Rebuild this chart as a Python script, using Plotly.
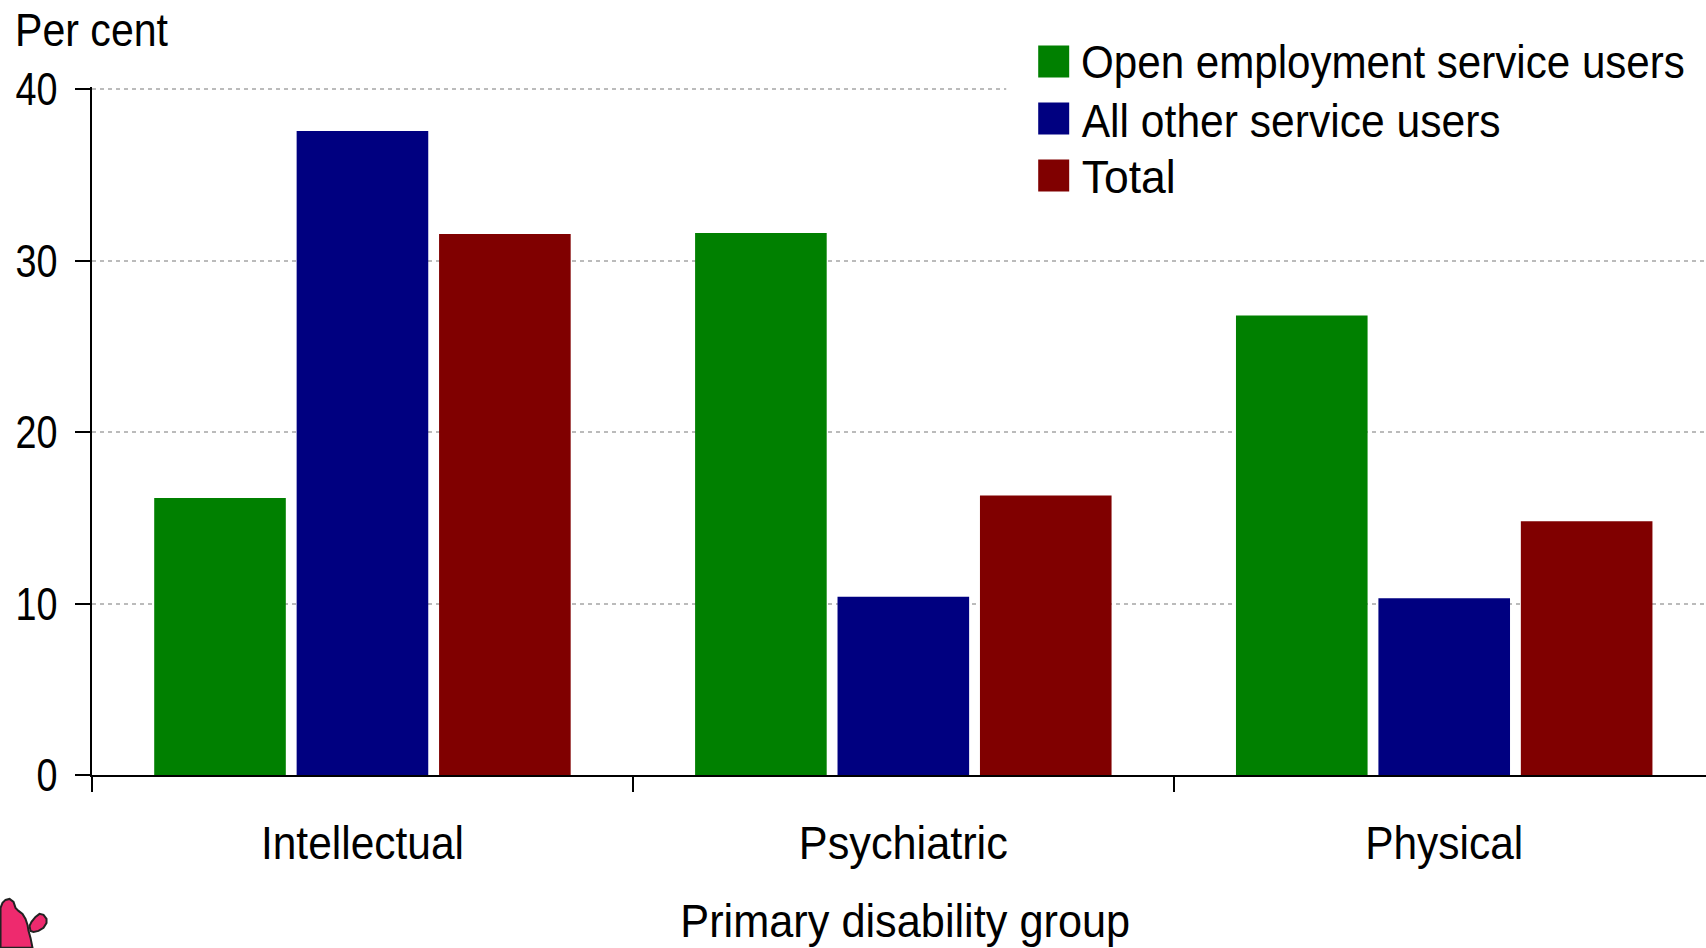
import json
import plotly.graph_objects as go

categories = ["Intellectual", "Psychiatric", "Physical"]
open_employment = [16.15, 31.6, 26.8]
all_other = [37.55, 10.4, 10.3]
total = [31.55, 16.3, 14.8]
series = [("Open employment service users", open_employment, "#008000"),
          ("All other service users", all_other, "#000080"),
          ("Total", total, "#800000")]
y_ticks = [0, 10, 20, 30, 40]

W, H = 1706, 948
L, T, B = 91.5, 86.5, 173
FONT = "Liberation Sans, Arial"
FS = 47
UNIT = 686.5 / 40

# rendered widths (px) that reproduce the narrow typeface of the reference
text_widths = {"Open employment service users": 604, "All other service users": 419, "Total": 94,
               "Per cent": 153, "Intellectual": 203, "Psychiatric": 209, "Physical": 158,
               "Primary disability group": 450, "40": 42, "30": 42, "20": 42, "10": 42, "0": 21}

def px(x): return (x - L) / (W - L)
def py(y): return (H - B - y) / (H - T - B)

fig = go.Figure()
for name, vals, col in series:
    fig.add_bar(x=categories, y=vals, name=name, marker=dict(color=col, line=dict(width=0)), showlegend=False)

shapes = [dict(type="rect", xref="paper", yref="paper", x0=px(1006), x1=1, y0=py(225), y1=py(0),
               fillcolor="white", line=dict(width=0), layer="above")]
annotations = []
swatch_rows = [61, 118, 175]
text_rows = [61, 120, 176]
TEXT_LEFT = 1081
for (name, vals, col), yc, yt in zip(series, swatch_rows, text_rows):
    shapes.append(dict(type="rect", xref="paper", yref="paper", x0=px(1038), x1=px(1069),
                       y0=py(yc - 16), y1=py(yc + 16), fillcolor=col, line=dict(width=0), layer="above"))
    annotations.append(dict(text=name, xref="paper", yref="paper", x=px(TEXT_LEFT + text_widths[name] / 2), y=py(yt),
                            xanchor="center", yanchor="middle", showarrow=False,
                            font=dict(size=FS, color="black", family=FONT)))
annotations.append(dict(text="Per cent", xref="paper", yref="paper", x=px(14 + text_widths["Per cent"] / 2), y=py(29),
                        xanchor="center", yanchor="middle", showarrow=False,
                        font=dict(size=FS, color="black", family=FONT)))
annotations.append(dict(text="Primary disability group", xref="paper", yref="paper", x=px(905), y=py(921),
                        xanchor="center", yanchor="middle", showarrow=False,
                        font=dict(size=FS, color="black", family=FONT)))

def path(pts):
    return "M" + "L".join(f"{px(a):.5f},{py(b):.5f}" for a, b in pts) + "Z"
blob = [(0, 948), (0, 908), (2, 903), (5, 900), (9, 899), (13, 902), (15, 908), (18, 911), (22, 914),
        (25, 919), (27, 925), (28, 931), (30, 938), (32, 948)]
lobe = [(29, 926), (31, 922), (35, 917), (39, 914), (43, 915), (46, 919), (46, 923), (43, 928), (38, 931), (33, 932), (30, 931)]
for p in (blob, lobe):
    shapes.append(dict(type="path", xref="paper", yref="paper", path=path(p), fillcolor="#ee2a6e",
                       line=dict(color="#222222", width=2), layer="above"))

fig.update_layout(
    width=W, height=H, margin=dict(l=L, r=0, t=T, b=B), paper_bgcolor="white", plot_bgcolor="white",
    barmode="group", bargap=0.21, bargroupgap=0.076, showlegend=False,
    font=dict(family=FONT, size=FS, color="black"),
    shapes=shapes, annotations=annotations,
    xaxis=dict(range=[-0.5, 2.484], tickson="boundaries", ticks="outside", ticklen=15, tickwidth=2, tickcolor="black",
               showline=True, linecolor="black", linewidth=2, showgrid=False, type="category",
               ticklabelstandoff=26, tickfont=dict(size=FS, family=FONT)),
    yaxis=dict(range=[0, 40 + 2 / UNIT], tickvals=y_ticks, ticks="outside", ticklen=15, tickwidth=2, tickcolor="black",
               showline=True, linecolor="black", linewidth=2, showgrid=True, gridcolor="#bbbbbb", gridwidth=2,
               griddash="4px,4px", zeroline=False, ticklabelstandoff=8, tickfont=dict(size=FS, family=FONT)),
)
post = """
document.body.style.margin='0';
var widths = %s;
document.querySelectorAll('svg text').forEach(function(t){
  var w = widths[t.textContent.trim()];
  if (!w) return;
  if (t.closest('.annotation')) {
    var k = w / t.getComputedTextLength();
    t.style.transformBox = 'fill-box';
    t.style.transformOrigin = 'center';
    t.style.transform = 'scaleX(' + k + ')';
  } else {
    t.setAttribute('textLength', w);
    t.setAttribute('lengthAdjust', 'spacingAndGlyphs');
  }
});
document.querySelectorAll('.annotation rect.bg').forEach(function(r){ r.remove(); });
""" % json.dumps(text_widths)
fig.write_html("out.html", post_script=post, config={"displayModeBar": False})
